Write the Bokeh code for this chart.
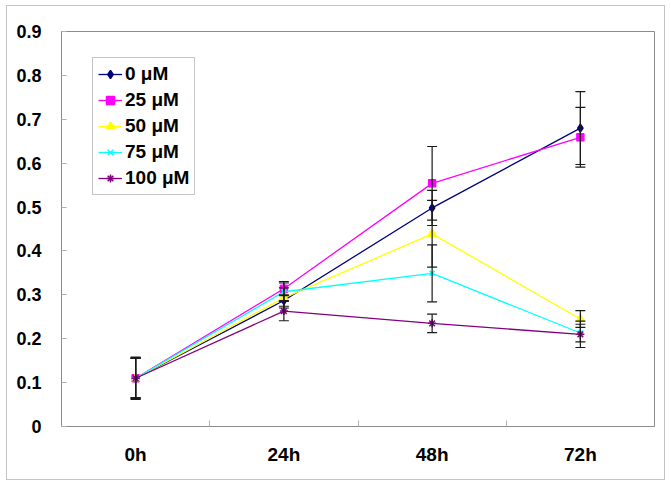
from bokeh.plotting import figure
from bokeh.models import (ColumnDataSource, Range1d, FixedTicker, Whisker, TeeHead,
                          Legend, LegendItem)
from bokeh.embed import file_html
from bokeh.resources import INLINE

times = ["0h", "24h", "48h", "72h"]
series_names = ["0 μM", "25 μM", "50 μM", "75 μM", "100 μM"]

v0 = [0.110, 0.287, 0.498, 0.680]
v25 = [0.110, 0.314, 0.554, 0.659]
v50 = [0.110, 0.293, 0.439, 0.245]
v75 = [0.110, 0.307, 0.349, 0.213]
v100 = [0.110, 0.263, 0.235, 0.210]

e0 = [0.047, 0.013, 0.040, 0.083]
e25 = [0.045, 0.016, 0.084, 0.068]
e50 = [0.045, 0.023, 0.076, 0.019]
e75 = [0.045, 0.020, 0.065, 0.020]
e100 = [0.048, 0.022, 0.021, 0.030]

y_ticks = [0, 0.1, 0.2, 0.3, 0.4, 0.5, 0.6, 0.7, 0.8, 0.9]
y_labels = ["0", "0.1", "0.2", "0.3", "0.4", "0.5", "0.6", "0.7", "0.8", "0.9"]

colors = ["#000080", "#FF00FF", "#FFFF00", "#00FFFF", "#800080"]
markers = ["diamond", "square", "triangle", "x", "asterisk"]
sizes = [8, 7, 8, 7, 8]

values = [v0, v25, v50, v75, v100]
errors = [e0, e25, e50, e75, e100]

FONT = "Liberation Sans"

p = figure(width=659, height=475, output_backend="svg", toolbar_location=None,
           x_range=Range1d(0, len(times)), y_range=Range1d(0, 0.9),
           min_border_left=54, min_border_right=12, min_border_top=25,
           min_border_bottom=55)
p.styles = {"border": "1px solid #c4c4c4", "margin-left": "6px", "margin-top": "5px"}
p.background_fill_color = "white"
p.border_fill_color = "white"
p.outline_line_color = "#8c8c8c"
p.outline_line_width = 1
p.xgrid.visible = False
p.ygrid.visible = False

xs = [i + 0.5 for i in range(len(times))]

# x axis
p.xaxis.ticker = FixedTicker(ticks=xs, minor_ticks=[i for i in range(1, len(times))])
p.xaxis.major_label_overrides = {x: t for x, t in zip(xs, times)}
p.xaxis.major_tick_line_color = None
p.xaxis.minor_tick_in = 6
p.xaxis.minor_tick_out = 0
p.xaxis.minor_tick_line_color = "#b0b0b0"
p.xaxis.axis_line_color = "#8c8c8c"
p.xaxis.major_label_standoff = 11
p.xaxis.major_label_text_font_size = "19px"

# y axis
p.yaxis.ticker = FixedTicker(ticks=y_ticks)
p.yaxis.major_label_overrides = {t: l for t, l in zip(y_ticks, y_labels)}
p.yaxis.major_tick_in = 5
p.yaxis.major_tick_out = 0
p.yaxis.major_tick_line_color = "#b0b0b0"
p.yaxis.minor_tick_line_color = None
p.yaxis.axis_line_color = "#8c8c8c"
p.yaxis.major_label_standoff = 20
p.yaxis.major_label_text_font_size = "18px"

for ax in (p.xaxis, p.yaxis):
    ax.major_label_text_font = FONT
    ax.major_label_text_font_style = "bold"
    ax.major_label_text_color = "black"

items = []
for name, vals, errs, col, mk, sz in zip(series_names, values, errors, colors, markers, sizes):
    src = ColumnDataSource(dict(
        x=xs, y=vals,
        upper=[v + e for v, e in zip(vals, errs)],
        lower=[v - e for v, e in zip(vals, errs)],
    ))
    w = Whisker(source=src, base="x", upper="upper", lower="lower",
                line_color="#1a1a1a", line_width=1.2,
                upper_head=TeeHead(size=10, line_color="#1a1a1a", line_width=1.2),
                lower_head=TeeHead(size=10, line_color="#1a1a1a", line_width=1.2),
                level="glyph")
    p.add_layout(w)
    r_line = p.line("x", "y", source=src, line_color=col, line_width=1.3)
    r_mark = p.scatter("x", "y", source=src, marker=mk, size=sz,
                       fill_color=col, line_color=col, line_width=1.5)
    items.append(LegendItem(label=name, renderers=[r_line, r_mark]))

legend = Legend(items=items, location=(31, 231))
legend.label_text_font = FONT
legend.label_text_font_style = "bold"
legend.label_text_font_size = "19px"
legend.label_text_color = "black"
legend.glyph_width = 24
legend.glyph_height = 20
legend.label_height = 20
legend.spacing = 4
legend.padding = 5
legend.label_standoff = 3
legend.border_line_color = "#8c8c8c"
legend.border_line_width = 1
legend.background_fill_alpha = 1
legend.margin = 0
p.add_layout(legend, "center")

open("out.html", "w").write(file_html(p, INLINE))
